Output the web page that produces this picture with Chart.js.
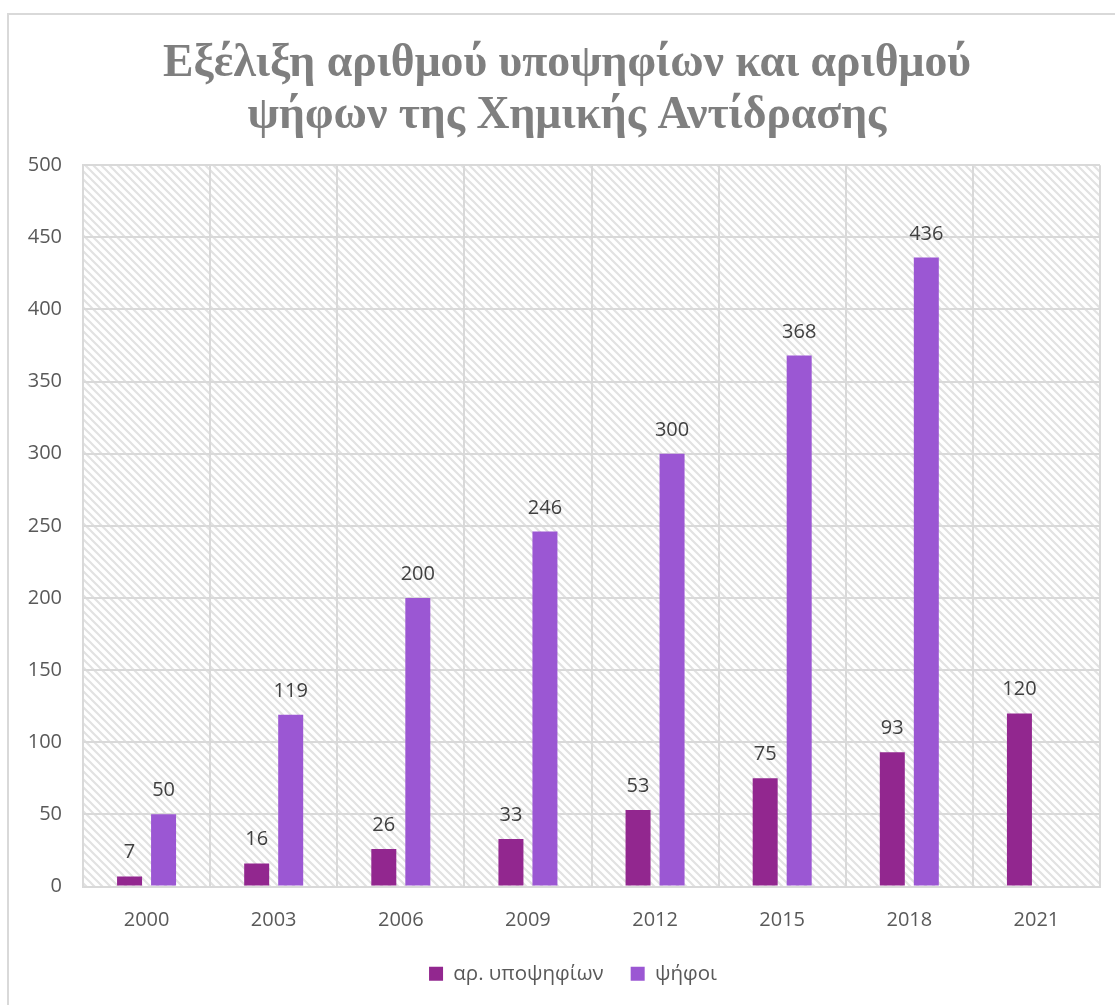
<!DOCTYPE html>
<html>
<head>
<meta charset="utf-8">
<script src="https://cdn.jsdelivr.net/npm/chart.js@4/dist/chart.umd.min.js"></script>
<style>
  html, body { margin: 0; padding: 0; background: #ffffff; }
  #wrap { position: relative; width: 1115px; height: 1005px; }
</style>
</head>
<body>
<div id="wrap"><canvas id="c" width="1115" height="1005"></canvas></div>
<script>
const categories = ['2000', '2003', '2006', '2009', '2012', '2015', '2018', '2021'];
const candidates = [7, 16, 26, 33, 53, 75, 93, 120];
const votes = [50, 119, 200, 246, 300, 368, 436, null];
const seriesNames = ['αρ. υποψηφίων', 'ψήφοι'];
const titleLines = ['Εξέλιξη αριθμού υποψηφίων και αριθμού', 'ψήφων της Χημικής Αντίδρασης'];
const yTicks = { min: 0, max: 500, step: 50 };

function makePattern(ctx) {
  const t = document.createElement('canvas');
  t.width = 8; t.height = 8;
  const g = t.getContext('2d');
  g.fillStyle = '#ffffff';
  g.fillRect(0, 0, 8, 8);
  g.strokeStyle = '#e2e2e2';
  g.lineWidth = 2.2;
  g.beginPath();
  g.moveTo(-2, -2); g.lineTo(10, 10);
  g.moveTo(-10, -2); g.lineTo(2, 10);
  g.moveTo(6, -2); g.lineTo(18, 10);
  g.stroke();
  return ctx.createPattern(t, 'repeat');
}

const bgPlugin = {
  id: 'bgPlugin',
  beforeDraw(chart) {
    const ctx = chart.ctx;
    const a = chart.chartArea;
    ctx.save();
    ctx.fillStyle = '#ffffff';
    ctx.fillRect(0, 0, chart.width, chart.height);
    ctx.strokeStyle = '#d9d9d9';
    ctx.lineWidth = 2;
    ctx.beginPath();
    ctx.moveTo(8, chart.height + 5);
    ctx.lineTo(8, 14);
    ctx.lineTo(chart.width + 5, 14);
    ctx.stroke();
    ctx.fillStyle = makePattern(ctx);
    ctx.fillRect(a.left, a.top, a.right - a.left, a.bottom - a.top);
    ctx.restore();
  }
};

// nudge title and legend to the reference's horizontal centre / vertical spot
const shiftPlugin = {
  id: 'shiftPlugin',
  afterLayout(chart) {
    const t = chart.titleBlock;
    if (t) { t.left += 17; t.right += 17; }
    const l = chart.legend;
    if (l) { l.left += 23; l.right += 23; l.top -= 18; l.bottom -= 18; }
  }
};

const labelPlugin = {
  id: 'labelPlugin',
  afterDatasetsDraw(chart) {
    const ctx = chart.ctx;
    ctx.save();
    ctx.font = '20px "Open Sans"';
    ctx.fillStyle = '#404040';
    ctx.textAlign = 'center';
    ctx.textBaseline = 'alphabetic';
    chart.data.datasets.forEach((ds, i) => {
      const meta = chart.getDatasetMeta(i);
      meta.data.forEach((el, j) => {
        const v = ds.data[j];
        if (v === null || v === undefined) return;
        ctx.fillText(String(v), el.x, el.y - 18);
      });
    });
    ctx.restore();
  }
};

new Chart(document.getElementById('c'), {
  type: 'bar',
  data: {
    labels: categories,
    datasets: [
      { label: seriesNames[0], data: candidates, backgroundColor: '#92278F', barPercentage: 0.735, categoryPercentage: 0.535 },
      { label: seriesNames[1], data: votes, backgroundColor: '#9B57D3', barPercentage: 0.735, categoryPercentage: 0.535 }
    ]
  },
  options: {
    responsive: false,
    animation: false,
    devicePixelRatio: 1,
    layout: { padding: { left: 0, right: 15, top: 14, bottom: -7 } },
    plugins: {
      title: {
        display: true,
        text: titleLines,
        color: '#7f7f7f',
        font: { family: '"Liberation Serif"', size: 45.7, weight: 'bold', lineHeight: 1.14 },
        padding: { top: 24, bottom: 23 }
      },
      legend: {
        position: 'bottom',
        labels: {
          boxWidth: 14, boxHeight: 14, padding: 27,
          color: '#595959',
          font: { family: '"Open Sans"', size: 20.5 }
        }
      },
      tooltip: { enabled: false }
    },
    scales: {
      x: {
        offset: true,
        grid: { offset: true, color: '#d9d9d9', lineWidth: 2, drawTicks: false },
        border: { color: '#d9d9d9', width: 2 },
        ticks: { color: '#595959', font: { family: '"Open Sans"', size: 20 }, padding: 22 }
      },
      y: {
        min: yTicks.min, max: yTicks.max,
        grid: { color: '#d9d9d9', lineWidth: 2, drawTicks: false },
        border: { color: '#d9d9d9', width: 2 },
        ticks: { stepSize: yTicks.step, color: '#595959', font: { family: '"Open Sans"', size: 20 }, padding: 21 },
        afterFit(scale) { scale.width = 83; }
      }
    }
  },
  plugins: [bgPlugin, shiftPlugin, labelPlugin]
});
</script>
</body>
</html>
